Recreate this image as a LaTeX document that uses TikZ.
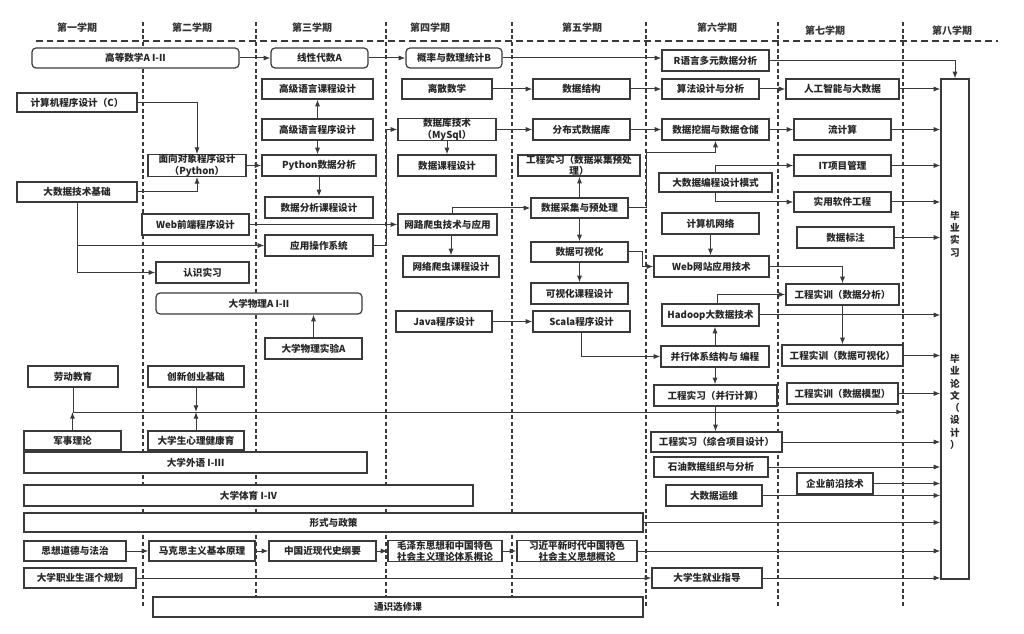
\documentclass[tikz,border=0pt]{standalone}
\usepackage{fontspec}
\setmainfont{Noto Sans CJK SC}
\usetikzlibrary{arrows.meta,calc}
\definecolor{lc}{HTML}{3A3A3A}
\newcommand\fs{\fontsize{7.2}{8.4}\selectfont\bfseries}
\newcommand\hs{\fontsize{7.5}{9}\selectfont\bfseries}
\newcommand\vs{\fontsize{7.2}{9.2}\selectfont\bfseries}
\newcommand\bx[7][]{\node[box,#1,minimum width={(#5-#3)*0.75pt},minimum height={(#6-#4)*0.75pt}] (#2) at ({(#3+#5)/2},{(#4+#6)/2}) {#7};}
\begin{document}
\begin{tikzpicture}[x=0.75pt,y=-0.75pt,
  box/.style={draw=lc,line width=0.9pt,fill=white,inner sep=0pt,align=center,font=\fs,text=black!85},
  rbox/.style={rounded corners=3pt},
  arr/.style={draw=lc,line width=0.75pt,-{Latex[length=5pt,width=3.8pt]}},
  ln/.style={draw=lc,line width=0.75pt},
  vdash/.style={draw=lc,line width=0.8pt,dash pattern=on 3pt off 2pt},
  hdash/.style={draw=lc,line width=0.9pt,dash pattern=on 5pt off 3pt},
  semlab/.style={font=\hs,text=black!80,inner sep=1pt},
  vtext/.style={font=\vs,text=black!85,align=center,inner sep=0pt}]
\useasboundingbox[fill=white] (0,0) rectangle (1024,634);
% semester headers
\node[semlab] (s1) at (77,28) {第一学期};
\node[semlab] (s2) at (192,28) {第二学期};
\node[semlab] (s3) at (312,28) {第三学期};
\node[semlab] (s4) at (430,28) {第四学期};
\node[semlab] (s5) at (582,28) {第五学期};
\node[semlab] (s6) at (717,28) {第六学期};
\node[semlab] (s7) at (825,31) {第七学期};
\node[semlab] (s8) at (952,31) {第八学期};
\draw[hdash] (36,41) -- (998,41);
\foreach \xx in {143,256,386,512,646,778,903} \draw[vdash] (\xx,22) -- (\xx,607);
% boxes
\bx[rbox]{gs}{32}{48}{239}{68}{高等数学A I-II}
\bx[rbox]{xx}{271}{48}{368}{68}{线性代数A}
\bx[rbox]{gl}{406}{48}{502}{68}{概率与数理统计B}
\bx{rr}{662}{50}{769}{71}{R语言多元数据分析}
\bx{cp}{17}{93}{137}{112}{计算机程序设计（C）}
\bx{oop}{148}{155}{246}{176}{面向对象程序设计\\（Python）}
\bx{bd}{17}{182}{137}{202}{大数据技术基础}
\bx{gk}{262}{79}{373}{99}{高级语言课程设计}
\bx{gc}{262}{119}{373}{140}{高级语言程序设计}
\bx{py}{262}{155}{376}{176}{Python数据分析}
\bx{pk}{265}{197}{373}{218}{数据分析课程设计}
\bx{web}{142}{214}{249}{235}{Web前端程序设计}
\bx{os}{265}{235}{373}{256}{应用操作系统}
\bx{rz}{156}{262}{249}{283}{认识实习}
\bx[rbox]{wl}{156}{293}{362}{314}{大学物理A I-II}
\bx{wly}{265}{338}{362}{359}{大学物理实验A}
\bx{ls}{402}{79}{492}{99}{离散数学}
\bx{db}{398}{119}{496}{140}{数据库技术\\（MySql）}
\bx{dk}{398}{155}{496}{176}{数据课程设计}
\bx{pc}{398}{214}{497}{235}{网路爬虫技术与应用}
\bx{pck}{403}{256}{499}{277}{网络爬虫课程设计}
\bx{java}{396}{311}{492}{332}{Java程序设计}
\bx{sj}{533}{79}{630}{99}{数据结构}
\bx{fb}{533}{119}{630}{140}{分布式数据库}
\bx{gx}{518}{155}{640}{176}{工程实习（数据采集预处\\理）}
\bx{cj}{531}{198}{628}{218}{数据采集与预处理}
\bx{ks}{531}{242}{628}{262}{数据可视化}
\bx{ksk}{531}{283}{628}{304}{可视化课程设计}
\bx{scala}{533}{311}{630}{332}{Scala程序设计}
\bx{sf}{662}{79}{759}{99}{算法设计与分析}
\bx{wj}{662}{119}{769}{140}{数据挖掘与数据仓储}
\bx{bc}{659}{173}{772}{192}{大数据编程设计模式}
\bx{net}{662}{213}{759}{234}{计算机网络}
\bx{ws}{654}{256}{769}{277}{Web网站应用技术}
\bx{hd}{662}{304}{759}{326}{Hadoop大数据技术}
\bx{bx}{661}{346}{769}{367}{并行体系结构与 编程}
\bx{gb}{654}{385}{777}{406}{工程实习（并行计算）}
\bx{gz}{651}{432}{782}{452}{工程实习（综合项目设计）}
\bx{sy}{654}{457}{768}{477}{石油数据组织与分析}
\bx{yw}{666}{485}{762}{506}{大数据运维}
\bx{jy}{652}{568}{762}{588}{大学生就业指导}
\bx{ai}{786}{79}{899}{99}{人工智能与大数据}
\bx{lj}{794}{119}{891}{140}{流计算}
\bx{it}{794}{155}{891}{176}{IT项目管理}
\bx{rj}{794}{192}{891}{212}{实用软件工程}
\bx{bz}{797}{227}{894}{248}{数据标注}
\bx{sfx}{786}{284}{899}{305}{工程实训（数据分析）}
\bx{skh}{782}{345}{903}{366}{工程实训（数据可视化）}
\bx{smx}{787}{383}{898}{404}{工程实训（数据模型）}
\bx{qy}{797}{473}{873}{494}{企业前沿技术}
\bx{by}{941}{79}{969}{579}{}
\node[vtext] (by1) at (955,234) {毕\\业\\实\\习};
\node[vtext] (by2) at (955,402) {毕\\业\\论\\文\\（\\设\\计\\）};
\bx{ld}{28}{366}{118}{387}{劳动教育}
\bx{cx}{148}{366}{244}{387}{创新创业基础}
\bx{js}{24}{431}{121}{450}{军事理论}
\bx{xl}{148}{431}{244}{450}{大学生心理健康育}
\bx{wy}{24}{452}{367}{473}{大学外语 I-Ⅲ}
\bx{ty}{24}{485}{473}{506}{大学体育 I-IV}
\bx{xs}{24}{513}{643}{532}{形式与政策}
\bx{sx}{24}{541}{126}{561}{思想道德与法治}
\bx{mk}{149}{541}{255}{561}{马克思主义基本原理}
\bx{zg}{269}{541}{376}{561}{中国近现代史纲要}
\bx{mz}{388}{541}{502}{561}{毛泽东思想和中国特色\\社会主义理论体系概论}
\bx{xj}{517}{541}{637}{561}{习近平新时代中国特色\\社会主义思想概论}
\bx{zy}{24}{568}{136}{588}{大学职业生涯个规划}
\bx{ts}{153}{597}{643}{617}{通识选修课}
% connectors
\draw[arr] (gs) -- (xx);
\draw[arr] (xx) -- (gl);
\draw[arr] (gl.east) -- (gl.east -| rr.west);
\draw[arr] (rr.east) -| (by.north);
\draw[arr] (cp.east) -| (oop.north);
\draw[arr] (bd.east) -| (oop.south);
\draw[arr] (oop) -- (py);
\draw[arr] (bd.south) |- (rz.west);
\draw[arr] (bd.south |- os.west) -- (os.west);
\draw[arr] (gc.north) -- (gc.north |- gk.south);
\draw[arr] (gc.south) -- (gc.south |- py.north);
\draw[arr] (py.south) -- (py.south |- pk.north);
\draw[arr] (os.east) -- ++(13,0) |- (db.west);
\draw[arr] (web) -- (pc);
\draw[arr] ([xshift=3.4pt]pc.north) |- (cj.west);
\draw[arr] (pck.north |- pc.south) -- (pck.north);
\draw[arr] (ls) -- (sj);
\draw[arr] (db.south) -- (db.south |- dk.north);
\draw[arr] (db) -- (fb);
\draw[arr] (fb) -- (wj);
\draw[arr] (sj) -- (sf);
\draw[arr] (sf) -- (ai);
\draw[arr] (ai.east) -- (ai.east -| by.west);
\draw[arr] (wj) -- (lj);
\draw[arr] (lj.east) -- (lj.east -| by.west);
\draw[arr] (cj.north) -- (cj.north |- gx.south);
\coordinate (k1) at (646,153);
\draw[arr] (cj.east) -| (k1) -| (wj.south);
\draw[arr] (bc.north) |- (it.west);
\draw[arr] (bc.south) |- (rj.west);
\draw[arr] (it.east) -- (it.east -| by.west);
\draw[arr] (rj.east) -- (rj.east -| by.west);
\draw[arr] (bz.east) -- (bz.east -| by.west);
\draw[arr] (cj.south) -- (cj.south |- ks.north);
\draw[arr] (ks.south) -- (ks.south |- ksk.north);
\draw[arr] (ks.east) -- ++(14,0) |- (ws.west);
\draw[arr] (net.south) -- (net.south |- ws.north);
\draw[arr] (ws.east) -| (sfx.north);
\draw[arr] ([xshift=4.9pt]hd.north) |- (sfx.west);
\draw[arr] (sfx.south) -- (sfx.south |- skh.north);
\draw[arr] (hd.east) -- (hd.east -| by.west);
\draw[arr] (skh.east) -- (skh.east -| by.west);
\draw[arr] (smx.east) -- (smx.east -| by.west);
\draw[arr] (java) -- (scala);
\draw[arr] (scala.south) |- (bx.west);
\draw[arr] (bx.north) -- (bx.north |- hd.south);
\draw[arr] (bx.south) -- (bx.south |- gb.north);
\draw[arr] (gb.south) -- (gb.south |- gz.north);
\draw[arr] (gz.east) -- (gz.east -| by.west);
\draw[arr] (sy.east) -- (sy.east -| by.west);
\draw[arr] (yw.east) -- (yw.east -| by.west);
\draw[arr] (qy.east) -- (qy.east -| by.west);
\draw[arr] (xs.east) -- (xs.east -| by.west);
\draw[arr] (sx) -- (mk);
\draw[arr] (mk) -- (zg);
\draw[arr] (zg) -- (mz);
\draw[arr] (mz) -- (xj);
\draw[arr] (xj.east) -- (xj.east -| by.west);
\draw[arr] (zy) -- (jy);
\draw[arr] (jy.east) -- (jy.east -| by.west);
\draw[arr] (wly.north) -- (wly.north |- wl.south);
% line at y=412
\coordinate (h0) at (73,412);
\coordinate (h1) at (903,412);
\draw[arr] (h0) -- (h1);
\draw[ln] (ld.south) -- (ld.south |- h0);
\draw[arr] (js.north) -- (js.north |- h0);
\draw[arr] (cx.south) -- (cx.south |- h0);
\draw[arr] (xl.north) -- (xl.north |- h0);
\end{tikzpicture}
\end{document}
